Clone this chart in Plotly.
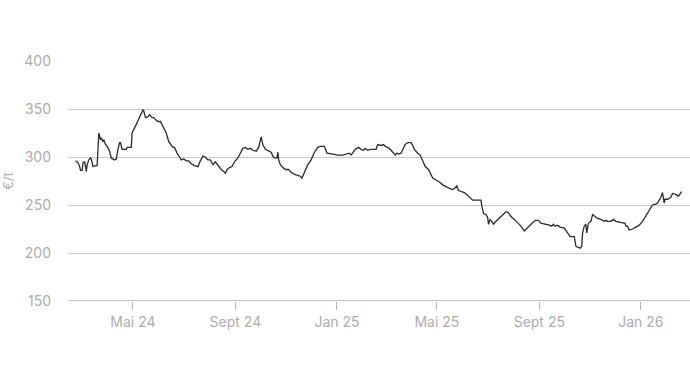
import plotly.graph_objects as go

dates = [
    "2024-02-22", "2024-02-25", "2024-02-27", "2024-02-28", "2024-03-01", "2024-03-02", "2024-03-04",
    "2024-03-06", "2024-03-07", "2024-03-09", "2024-03-11", "2024-03-12", "2024-03-14", "2024-03-16",
    "2024-03-19", "2024-03-21", "2024-03-23", "2024-03-24", "2024-03-26", "2024-03-27", "2024-03-29",
    "2024-03-31", "2024-04-03", "2024-04-05", "2024-04-09", "2024-04-11", "2024-04-13", "2024-04-15",
    "2024-04-16", "2024-04-18", "2024-04-23", "2024-04-24", "2024-04-29", "2024-04-30", "2024-05-05",
    "2024-05-09", "2024-05-13", "2024-05-14", "2024-05-16", "2024-05-19", "2024-05-21", "2024-05-24",
    "2024-05-26", "2024-05-28", "2024-05-31", "2024-06-03", "2024-06-06", "2024-06-10", "2024-06-13",
    "2024-06-18", "2024-06-20", "2024-06-23", "2024-06-26", "2024-06-28", "2024-07-01", "2024-07-04",
    "2024-07-07", "2024-07-10", "2024-07-14", "2024-07-18", "2024-07-21", "2024-07-24", "2024-07-27",
    "2024-07-30", "2024-08-02", "2024-08-05", "2024-08-08", "2024-08-11", "2024-08-15", "2024-08-18",
    "2024-08-20", "2024-08-22", "2024-08-25", "2024-08-28", "2024-08-31", "2024-09-04", "2024-09-07",
    "2024-09-10", "2024-09-13", "2024-09-16", "2024-09-19", "2024-09-22", "2024-09-26", "2024-09-29",
    "2024-10-02", "2024-10-04", "2024-10-07", "2024-10-11", "2024-10-14", "2024-10-16", "2024-10-18",
    "2024-10-21", "2024-10-22", "2024-10-23", "2024-10-25", "2024-10-28", "2024-10-31", "2024-11-04",
    "2024-11-07", "2024-11-11", "2024-11-15", "2024-11-18", "2024-11-20", "2024-11-23", "2024-11-27",
    "2024-12-01", "2024-12-05", "2024-12-09", "2024-12-12", "2024-12-17", "2024-12-20", "2024-12-27",
    "2025-01-02", "2025-01-08", "2025-01-13", "2025-01-16", "2025-01-18", "2025-01-20", "2025-01-23",
    "2025-01-27", "2025-01-30", "2025-02-02", "2025-02-04", "2025-02-07", "2025-02-10", "2025-02-13",
    "2025-02-17", "2025-02-19", "2025-02-23", "2025-02-26", "2025-02-28", "2025-03-03", "2025-03-06",
    "2025-03-09", "2025-03-12", "2025-03-14", "2025-03-16", "2025-03-19", "2025-03-21", "2025-03-24",
    "2025-03-27", "2025-03-31", "2025-04-02", "2025-04-04", "2025-04-08", "2025-04-11", "2025-04-14",
    "2025-04-17", "2025-04-21", "2025-04-24", "2025-04-26", "2025-04-30", "2025-05-04", "2025-05-08",
    "2025-05-12", "2025-05-16", "2025-05-19", "2025-05-22", "2025-05-25", "2025-05-27", "2025-05-30",
    "2025-06-03", "2025-06-07", "2025-06-10", "2025-06-13", "2025-06-19", "2025-06-23", "2025-06-24",
    "2025-06-26", "2025-06-29", "2025-07-01", "2025-07-02", "2025-07-04", "2025-07-06", "2025-07-08",
    "2025-07-11", "2025-07-15", "2025-07-19", "2025-07-23", "2025-07-26", "2025-07-29", "2025-08-02",
    "2025-08-06", "2025-08-10", "2025-08-14", "2025-08-18", "2025-08-22", "2025-08-27", "2025-08-31",
    "2025-09-03", "2025-09-09", "2025-09-13", "2025-09-16", "2025-09-18", "2025-09-20", "2025-09-23",
    "2025-09-26", "2025-10-01", "2025-10-05", "2025-10-08", "2025-10-11", "2025-10-13", "2025-10-15",
    "2025-10-20", "2025-10-22", "2025-10-23", "2025-10-25", "2025-10-27", "2025-10-28", "2025-10-30",
    "2025-11-02", "2025-11-04", "2025-11-07", "2025-11-10", "2025-11-14", "2025-11-18", "2025-11-20",
    "2025-11-22", "2025-11-26", "2025-11-29", "2025-12-02", "2025-12-06", "2025-12-10", "2025-12-13",
    "2025-12-14", "2025-12-16", "2025-12-18", "2025-12-22", "2025-12-26", "2025-12-30", "2026-01-03",
    "2026-01-07", "2026-01-11", "2026-01-15", "2026-01-19", "2026-01-21", "2026-01-25", "2026-01-27",
    "2026-01-29", "2026-01-30", "2026-02-02", "2026-02-06", "2026-02-08", "2026-02-12", "2026-02-15",
    "2026-02-17", "2026-02-19",
]

prices = [
    296, 294, 290, 286, 286, 294, 295,
    285, 292, 297, 299, 298, 290, 291,
    291, 325, 318, 320, 316, 318, 313,
    311, 306, 299, 297, 298, 308, 315,
    315, 308, 308, 310, 310, 325, 334,
    342, 349, 348, 341, 342, 344, 341,
    341, 339, 337, 337, 332, 325, 316,
    310, 310, 304, 300, 297, 298, 296,
    296, 293, 291, 290, 296, 301, 300,
    297, 297, 292, 295, 291, 287, 285,
    283, 287, 289, 290, 295, 299, 304,
    309, 310, 308, 309, 307, 306, 310,
    321, 313, 308, 306, 305, 301, 299,
    299, 305, 297, 292, 289, 287, 287,
    284, 282, 281, 280, 278, 284, 292,
    297, 305, 310, 311, 311, 304, 303,
    302, 302, 303, 304, 302, 304, 308,
    310, 308, 307, 309, 307, 308, 308,
    308, 313, 312, 313, 311, 310, 308,
    305, 302, 304, 303, 304, 308, 313,
    315, 315, 312, 308, 304, 302, 296,
    290, 287, 282, 278, 276, 274, 271,
    269, 267, 266, 267, 270, 265, 264,
    263, 260, 257, 255, 255, 255, 249,
    241, 240, 237, 230, 235, 233, 230,
    233, 236, 239, 243, 242, 238, 235,
    232, 228, 223, 227, 230, 234, 234,
    231, 230, 229, 228, 230, 228, 229,
    227, 226, 221, 217, 217, 217, 207,
    205, 207, 221, 228, 230, 221, 231,
    233, 240, 238, 236, 235, 233, 234,
    233, 233, 235, 233, 232, 231, 231,
    228, 228, 224, 225, 227, 229, 233,
    239, 245, 250, 251, 252, 258, 263,
    252, 256, 256, 258, 262, 261, 259,
    261, 264,
]

tick_dates = ["2024-05-01", "2024-09-01", "2025-01-01", "2025-05-01", "2025-09-01", "2026-01-01"]
tick_labels = ["Mai 24", "Sept 24", "Jan 25", "Mai 25", "Sept 25", "Jan 26"]
y_ticks = [150, 200, 250, 300, 350, 400]

FONT = "Inter, 'Noto Sans', sans-serif"
TEXT = "#adadad"

fig = go.Figure()
fig.add_trace(go.Scatter(
    x=dates, y=prices, mode="lines",
    line=dict(color="#2b2b2b", width=1.3),
    hoverinfo="x+y", showlegend=False,
))

fig.update_layout(
    width=690, height=386,
    margin=dict(l=68, r=0, t=61, b=85),
    paper_bgcolor="white", plot_bgcolor="white",
    font=dict(family=FONT, size=14, color=TEXT),
    xaxis=dict(
        type="date",
        range=["2024-02-13", "2026-03-01"],
        tickvals=tick_dates, ticktext=tick_labels,
        ticks="outside", ticklen=8, tickcolor="#b5b5b5", tickwidth=1,
        showline=False, showgrid=False, zeroline=False,
        tickfont=dict(family=FONT, size=14, color=TEXT),
    ),
    yaxis=dict(
        range=[150, 400],
        tickvals=y_ticks,
        showgrid=True, gridcolor="#c8c8c8", gridwidth=1,
        zeroline=False, showline=False,
        ticks="", ticklabelstandoff=16,
        tickfont=dict(family=FONT, size=14, color=TEXT),
        title=dict(text="€/t", font=dict(family=FONT, size=13, color=TEXT), standoff=16),
    ),
)
fig.add_hline(y=150, line=dict(color="#b0b0b0", width=1.5), layer="below")

fig.write_html("out.html")
